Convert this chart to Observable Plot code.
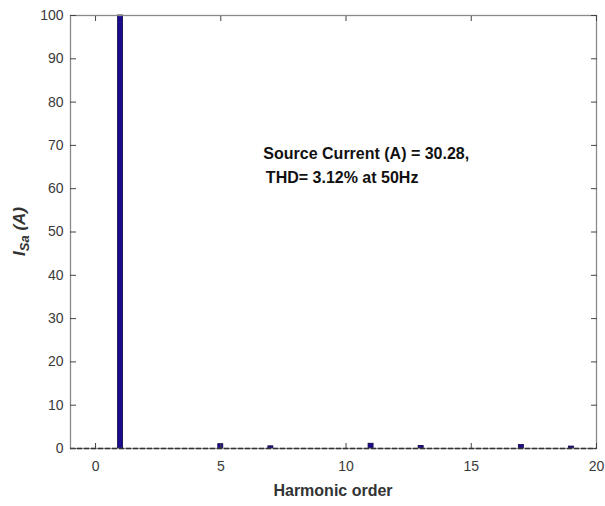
<!DOCTYPE html>
<html>
<head>
<meta charset="utf-8">
<script src="https://cdn.jsdelivr.net/npm/d3@7"></script>
<script src="https://cdn.jsdelivr.net/npm/@observablehq/plot@0.6"></script>
<style>
  html, body { margin: 0; padding: 0; background: #fff; }
  #chart svg { display: block; font-family: "Liberation Sans", Arial, Helvetica, sans-serif; }
</style>
</head>
<body>
<div id="chart"></div>
<script>
// Harmonic spectrum of source current (percentage of fundamental)
const harmonicOrders = [1, 5, 7, 11, 13, 17, 19];
const harmonicValues = [100, 1.0, 0.5, 1.1, 0.6, 0.8, 0.45];
const xTicks = [0, 5, 10, 15, 20];
const yTicks = [0, 10, 20, 30, 40, 50, 60, 70, 80, 90, 100];
const xDomain = [-1, 20];
const yDomain = [0, 100];
const annotationLines = ["Source Current (A) = 30.28,", "THD= 3.12% at 50Hz"];
const annotationX = [6.7, 6.8];
const annotationY = [68.1, 62.5];
const xLabel = "Harmonic order";

const bars = harmonicOrders.map((o, i) => ({order: o, value: harmonicValues[i]}));
const notes = annotationLines.map((t, i) => ({text: t, x: annotationX[i], y: annotationY[i]}));
const barHalf = 0.1;
const tickColor = "#444";

const plot = Plot.plot({
  width: 605,
  height: 506,
  marginLeft: 70,
  marginRight: 9,
  marginTop: 15,
  marginBottom: 58,
  style: {fontFamily: "Liberation Sans, Arial, sans-serif", background: "#fff"},
  x: {domain: xDomain, label: null},
  y: {domain: yDomain, label: null},
  marks: [
    Plot.rectY(bars, {
      x1: d => d.order - barHalf,
      x2: d => d.order + barHalf,
      y1: 0,
      y2: "value",
      fill: "#1d0b8e",
      stroke: "#0b0640",
      strokeWidth: 0.8
    }),
    Plot.frame({stroke: "#8a8a8a", strokeWidth: 1.3}),
    // dashed baseline along zero
    Plot.ruleY([0], {stroke: "#333", strokeWidth: 1.5, strokeDasharray: "5,2"}),
    // tick labels
    Plot.axisX({ticks: xTicks, tickSize: 0, tickPadding: 13, fontSize: 14, color: "#3a3a3a", label: null}),
    Plot.axisY({ticks: yTicks, tickSize: 0, tickPadding: 7, fontSize: 14, color: "#3a3a3a", label: null}),
    // inward ticks on all four sides
    Plot.axisX({ticks: xTicks, tickSize: 5, dy: -5, tickFormat: () => "", stroke: tickColor, label: null}),
    Plot.axisX({anchor: "top", ticks: xTicks, tickSize: 5, dy: 5, tickFormat: () => "", stroke: tickColor, label: null}),
    Plot.axisY({ticks: yTicks, tickSize: 6, dx: 6, tickFormat: () => "", stroke: tickColor, label: null}),
    Plot.axisY({anchor: "right", ticks: yTicks, tickSize: 6, dx: -6, tickFormat: () => "", stroke: tickColor, label: null}),
    Plot.text(notes, {
      x: "x", y: "y", text: "text",
      textAnchor: "start",
      fontSize: 16,
      fontWeight: "bold",
      fill: "#111"
    })
  ]
});

const svg = d3.select(plot);
// x-axis title
svg.append("text")
  .attr("x", (70 + 596) / 2)
  .attr("y", 492)
  .attr("text-anchor", "middle")
  .attr("dominant-baseline", "middle")
  .attr("font-size", 16)
  .attr("font-weight", "bold")
  .attr("fill", "#333")
  .text(xLabel);
// y-axis title with subscript
const yl = svg.append("text")
  .attr("transform", `translate(25,${(15 + 448) / 2}) rotate(-90)`)
  .attr("text-anchor", "middle")
  .attr("font-size", 17)
  .attr("font-weight", "bold")
  .attr("font-style", "italic")
  .attr("fill", "#333");
yl.append("tspan").text("I");
yl.append("tspan").attr("dy", 4).attr("font-size", 13).text("Sa");
yl.append("tspan").attr("dy", -4).text(" (A)");

document.getElementById("chart").appendChild(plot);
</script>
</body>
</html>
